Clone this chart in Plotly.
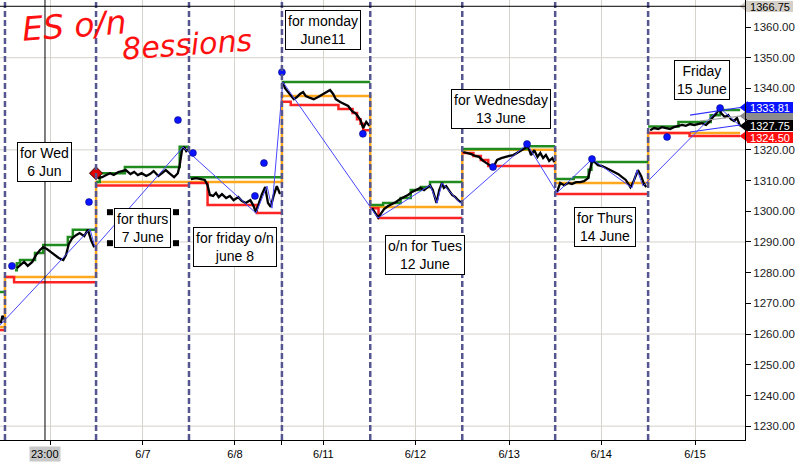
import plotly.graph_objects as go

# session boundaries on the x axis (one unit = one overnight session)
session_starts = [-0.054, 0.0, 0.99, 2.0, 3.01, 3.97, 4.97, 5.98, 6.99, 7.99]

# price samples: time as fraction of the session, and price
price_time = [
    [0.15, 0.5, 0.85],
    [0.13, 0.165, 0.21, 0.25, 0.30, 0.34, 0.385, 0.42, 0.46, 0.505, 0.55, 0.59, 0.64, 0.67, 0.70, 0.74, 0.78, 0.82, 0.87, 0.91, 0.945, 0.98],
    [0.02, 0.065, 0.11, 0.15, 0.19, 0.24, 0.28, 0.32, 0.37, 0.41, 0.45, 0.49, 0.54, 0.58, 0.62, 0.67, 0.71, 0.75, 0.80, 0.84, 0.88, 0.90, 0.925, 0.946, 0.97, 0.99],
    [0.02, 0.075, 0.13, 0.17, 0.20, 0.225, 0.26, 0.29, 0.32, 0.355, 0.40, 0.44, 0.48, 0.53, 0.57, 0.61, 0.66, 0.69, 0.72, 0.75, 0.785, 0.82, 0.85, 0.88, 0.91, 0.945, 0.98],
    [0.01, 0.035, 0.07, 0.10, 0.135, 0.17, 0.205, 0.24, 0.27, 0.32, 0.36, 0.41, 0.45, 0.50, 0.545, 0.58, 0.61, 0.66, 0.70, 0.75, 0.795, 0.84, 0.89, 0.92, 0.955, 0.99],
    [0.02, 0.055, 0.087, 0.12, 0.15, 0.195, 0.24, 0.28, 0.325, 0.37, 0.41, 0.455, 0.50, 0.545, 0.585, 0.65, 0.68, 0.72, 0.75, 0.78, 0.80, 0.825, 0.86, 0.89, 0.925, 0.955, 0.99],
    [0.01, 0.054, 0.097, 0.14, 0.18, 0.225, 0.27, 0.31, 0.345, 0.375, 0.42, 0.46, 0.505, 0.55, 0.59, 0.635, 0.68, 0.70, 0.74, 0.775, 0.81, 0.84, 0.87, 0.90, 0.935, 0.97, 0.99],
    [0.02, 0.054, 0.097, 0.14, 0.18, 0.225, 0.27, 0.31, 0.355, 0.387, 0.40, 0.46, 0.505, 0.55, 0.59, 0.635, 0.68, 0.72, 0.76, 0.81, 0.84, 0.87, 0.89, 0.925, 0.955, 0.98],
    [0.022, 0.065, 0.11, 0.15, 0.195, 0.24, 0.28, 0.325, 0.37, 0.41, 0.455, 0.50, 0.545, 0.585, 0.63, 0.675, 0.705, 0.74, 0.77, 0.80, 0.835, 0.87, 0.90, 0.935, 0.965, 1.0],
]
price_vals = [
    [1263.5, 1266.0, 1264.8],
    [1281.5, 1282.5, 1283.5, 1282.2, 1283.5, 1285.7, 1287.4, 1288.3, 1287.7, 1286.7, 1285.7, 1284.8, 1284.1, 1285.7, 1289.3, 1291.3, 1292.2, 1292.9, 1291.9, 1294.0, 1290.6, 1288.3],
    [1310.8, 1311.1, 1311.8, 1312.4, 1311.8, 1312.8, 1313.1, 1313.4, 1312.1, 1312.8, 1311.8, 1312.4, 1311.5, 1312.1, 1313.1, 1311.5, 1312.4, 1313.4, 1312.1, 1311.1, 1312.4, 1315.0, 1319.9, 1321.0, 1319.6, 1320.3],
    [1310.5, 1310.8, 1310.5, 1310.2, 1308.5, 1305.3, 1305.0, 1306.0, 1304.6, 1305.6, 1304.3, 1305.0, 1303.6, 1304.6, 1303.3, 1302.7, 1303.6, 1302.0, 1299.7, 1302.7, 1305.6, 1307.9, 1302.7, 1301.4, 1305.0, 1308.2, 1305.6],
    [1342.1, 1340.1, 1338.8, 1337.9, 1336.5, 1337.2, 1338.2, 1338.8, 1337.5, 1336.9, 1336.5, 1337.2, 1337.9, 1338.5, 1339.5, 1338.2, 1336.5, 1335.6, 1334.9, 1334.3, 1332.6, 1331.7, 1329.7, 1327.1, 1329.1, 1327.8],
    [1301.0, 1299.4, 1297.9, 1299.4, 1300.7, 1301.7, 1302.3, 1303.0, 1304.0, 1304.6, 1305.3, 1306.3, 1306.9, 1307.6, 1306.9, 1308.4, 1306.9, 1302.7, 1306.9, 1309.2, 1307.6, 1308.2, 1306.6, 1305.3, 1304.6, 1303.6, 1302.8],
    [1319.3, 1319.0, 1318.6, 1318.0, 1317.7, 1316.4, 1315.4, 1314.7, 1315.0, 1316.7, 1317.3, 1317.7, 1318.0, 1318.3, 1319.0, 1319.6, 1320.6, 1321.8, 1318.3, 1319.9, 1317.7, 1319.0, 1317.3, 1318.3, 1316.4, 1317.3, 1316.0],
    [1306.3, 1309.2, 1308.5, 1309.2, 1308.9, 1309.5, 1309.5, 1309.8, 1310.8, 1314.4, 1316.8, 1315.0, 1314.7, 1314.1, 1313.4, 1312.8, 1312.1, 1311.1, 1310.2, 1307.8, 1309.5, 1311.8, 1313.4, 1311.5, 1308.9, 1307.9],
    [1326.4, 1327.1, 1326.8, 1327.4, 1327.1, 1326.8, 1327.4, 1327.8, 1328.1, 1327.8, 1328.4, 1328.1, 1328.4, 1328.7, 1328.1, 1329.4, 1330.7, 1331.7, 1333.5, 1331.7, 1330.7, 1331.3, 1330.0, 1329.4, 1330.4, 1327.75],
]

# session level lines (step lines): change times and levels
green_time = [[0], [0.11, 0.13, 0.165, 0.33, 0.42, 0.69, 0.745], [0, 0.04, 0.31, 0.90], [0], [0],
              [0, 0.14, 0.33, 0.44, 0.55, 0.65], [0, 0.70], [0, 0.2, 0.36, 0.39], [0, 0.33, 0.68, 0.78]]
green_vals = [[1273.7], [1280.8, 1283.1, 1284.1, 1286.4, 1289.0, 1291.6, 1294.0], [1309.5, 1312.4, 1314.4, 1321.0],
              [1311.1], [1342.1], [1302.0, 1302.7, 1304.3, 1306.9, 1307.9, 1309.5], [1320.3, 1321.2],
              [1310.5, 1311.1, 1313.5, 1316.0], [1327.6, 1329.1, 1331.3, 1333.0]]
orange_time = [[0], [0], [0], [0], [0], [0], [0], [0], [0]]
orange_vals = [[1262.3], [1278.6], [1309.5], [1309.5], [1337.5], [1301.4], [1320.0], [1309.2], [1325.5]]
red_time = [[0], [0, 0.1], [0], [0, 0.20, 0.73], [0, 0.10, 0.64, 0.80, 0.85, 0.89, 0.92], [0, 0.09],
            [0, 0.12, 0.20, 0.28], [0], [0, 0.45]]
red_vals = [[1261.3], [1278.6, 1276.9], [1308.4], [1309.2, 1302.0, 1299.4],
            [1335.7, 1334.6, 1333.3, 1332.0, 1330.0, 1328.5, 1326.4], [1301.0, 1297.8],
            [1319.0, 1318.0, 1316.7, 1314.7], [1305.6], [1325.5, 1324.5]]

# zigzag pivots and swing dots
zz_x = [-0.054, 0.924, 0.978, 1.935, 2.728, 2.848, 2.902, 3.02, 4.054, 4.62, 4.696, 4.75, 4.946,
        5.674, 6.0, 6.38, 6.815, 6.87, 6.935, 7.772, 7.989]
zz_p = [1262.9, 1294.2, 1288.3, 1320.9, 1299.4, 1308.2, 1301.0, 1342.1, 1297.8, 1308.5, 1302.7, 1309.2, 1302.7,
        1321.9, 1306.0, 1317.0, 1307.6, 1313.4, 1308.2, 1333.6, 1327.8]
dot_x = [0.076, 0.913, 1.88, 2.043, 2.717, 2.815, 3.01, 3.89, 5.304, 5.674, 6.38, 7.196, 7.772]
dot_p = [1282.2, 1303.0, 1329.7, 1319.0, 1305.0, 1315.7, 1345.3, 1325.2, 1314.4, 1321.9, 1317.0, 1324.2, 1333.6]
diamond_x = [0.989]
diamond_p = [1312.4]

# regression channel on the last session
chan_x = [7.446, 7.989]
chan_upper = [1331.3, 1333.8]
chan_lower = [1325.8, 1328.1]
mid_x = [7.554, 7.989]
chan_mid = [1329.4, 1331.0]

day_ticks = [0.49, 1.5, 2.5, 3.01, 3.46, 4.46, 5.48, 6.48, 7.5]
day_labels = ["", "6/7", "6/8", "", "6/11", "6/12", "6/13", "6/14", "6/15"]
price_ticks = list(range(1230, 1361, 10))
grid_levels = [1230, 1260, 1290, 1320, 1350]
cursor_x = 0.435
cursor_price = 1366.75
last_price = 1327.75
hidden_flag = 1331.0

X_RANGE = [-0.054, 8.043]


def session_x(k, t):
    a, b = session_starts[k], session_starts[k + 1]
    return a + t * (b - a)


def step_series(times, vals, join=False):
    xs, ys = [], []
    for k, (ts, vs) in enumerate(zip(times, vals)):
        for t, v in zip(ts, vs):
            xs.append(session_x(k, t))
            ys.append(v)
        xs.append(session_starts[k + 1])
        ys.append(vs[-1])
        if not join:
            xs.append(None)
            ys.append(None)
    return xs, ys


px_, py_ = [], []
for k, (ts, vs) in enumerate(zip(price_time, price_vals)):
    px_ += [session_x(k, t) for t in ts] + [None]
    py_ += vs + [None]

fig = go.Figure()

ox, oy = step_series(orange_time, orange_vals, join=True)
fig.add_trace(go.Scatter(x=ox, y=oy, mode="lines", line=dict(color="#ffa81e", width=2.5, shape="hv"), hoverinfo="skip"))
rx, ry = step_series(red_time, red_vals)
fig.add_trace(go.Scatter(x=rx, y=ry, mode="lines", line=dict(color="#ff2424", width=2.5, shape="hv"), hoverinfo="skip"))
gx, gy = step_series(green_time, green_vals)
fig.add_trace(go.Scatter(x=gx, y=gy, mode="lines", line=dict(color="#208c20", width=2.5, shape="hv"), hoverinfo="skip"))

fig.add_trace(go.Scatter(x=px_, y=py_, mode="lines", line=dict(color="black", width=2.3)))

fig.add_trace(go.Scatter(x=zz_x, y=zz_p, mode="lines", line=dict(color="#4848ff", width=1)))
fig.add_trace(go.Scatter(x=chan_x, y=chan_upper, mode="lines", line=dict(color="#3030ff", width=1.2)))
fig.add_trace(go.Scatter(x=chan_x, y=chan_lower, mode="lines", line=dict(color="#3030ff", width=1.2)))
fig.add_trace(go.Scatter(x=mid_x, y=chan_mid, mode="lines", line=dict(color="#a0a0a0", width=1.2)))

fig.add_trace(go.Scatter(x=dot_x, y=dot_p, mode="markers",
                         marker=dict(color="#0a14ff", size=7, line=dict(color="#000060", width=0.5))))
fig.add_trace(go.Scatter(x=diamond_x, y=diamond_p, mode="markers",
                         marker=dict(symbol="diamond", color="#e00000", size=10, line=dict(color="#400000", width=1))))

shapes = []
for g in grid_levels:
    shapes.append(dict(type="line", xref="paper", x0=0, x1=1, yref="y", y0=g, y1=g,
                       line=dict(color="#d6d2cc", width=1), layer="below"))
for s in session_starts[1:-1]:
    shapes.append(dict(type="line", xref="x", x0=s, x1=s, yref="paper", y0=0, y1=1,
                       line=dict(color="#55558f", width=2.5, dash="6px,3px"), layer="above"))
shapes.append(dict(type="line", xref="x", x0=cursor_x, x1=cursor_x, yref="paper", y0=0, y1=1,
                   line=dict(color="black", width=1)))
shapes.append(dict(type="line", xref="paper", x0=0, x1=1, yref="y", y0=cursor_price, y1=cursor_price,
                   line=dict(color="black", width=1)))

notes = [
    (0.435, 1316.0, "for Wed<br>6 Jun"),
    (1.5, 1294.5, "for thurs<br>7 June"),
    (2.5, 1288.3, "for friday o/n<br>june 8"),
    (3.457, 1359.0, "for monday<br>June11"),
    (4.565, 1285.7, "o/n for Tues<br>12 June"),
    (5.39, 1333.3, "for Wednesday<br>13 June"),
    (6.52, 1294.9, "for Thurs<br>14 June"),
    (7.576, 1342.7, "Friday<br>15 June"),
]
annotations = []
for x, y, txt in notes:
    annotations.append(dict(x=x, y=y, xref="x", yref="y", text=txt, showarrow=False,
                            font=dict(family="Liberation Sans, Arial", size=14, color="black"),
                            bgcolor="white", bordercolor="black", borderwidth=1, borderpad=2))

# selection handles on the "for thurs" box
for hx, hy in [(1.141, 1299.7), (1.859, 1299.7), (1.141, 1289.6), (1.859, 1289.6)]:
    shapes.append(dict(type="rect", xref="x", yref="y", xsizemode="pixel", ysizemode="pixel",
                       xanchor=hx, yanchor=hy, x0=-3, x1=3, y0=-3, y1=3,
                       fillcolor="black", line=dict(width=0)))

annotations.append(dict(x=0.76, y=1360.4, xref="x", yref="y", text="<i>ES o/n</i>", showarrow=False,
                        textangle=-4, font=dict(family="DejaVu Sans", size=33, color="#ff1010")))
annotations.append(dict(x=1.98, y=1354.2, xref="x", yref="y", text="<i>8essions</i>", showarrow=False,
                        textangle=-4, font=dict(family="DejaVu Sans", size=30, color="#ff1010")))

# right-hand price flags: pointer triangles plus labelled boxes
flags = [
    (cursor_price, "1366.75", "#d4d0c8", "black", 0),
    (chan_upper[-1], "1333.81", "#0a14ff", "white", 0),
    (last_price, "1327.75", "black", "white", 1),
    (red_vals[-1][-1], "1324.50", "#ff1010", "white", -1),
]
shapes.append(dict(type="rect", xref="paper", yref="y", xsizemode="pixel", ysizemode="pixel",
                   xanchor=1.0, yanchor=hidden_flag, x0=2, x1=48, y0=-6, y1=6,
                   fillcolor="#8c8c8c", line=dict(width=0)))
fig.add_trace(go.Scatter(x=[X_RANGE[1]] * 5, y=[cursor_price, hidden_flag, chan_upper[-1], last_price, red_vals[-1][-1]],
                         mode="markers", cliponaxis=False,
                         marker=dict(symbol="triangle-left", size=11,
                                     color=["#d4d0c8", "#8c8c8c", "#0a14ff", "black", "#ff1010"])))
for y, txt, bg, fc, dy in flags:
    annotations.append(dict(x=1.0, y=y, xref="paper", yref="y", xanchor="left", xshift=2, yshift=dy,
                            text=txt, showarrow=False, bgcolor=bg, bordercolor=bg, borderwidth=0,
                            borderpad=0, width=46, height=11, align="center",
                            font=dict(family="Liberation Sans, Arial", size=11, color=fc)))

annotations.append(dict(x=cursor_x, y=0, xref="x", yref="paper", yanchor="middle", yshift=-14,
                        text="23:00", showarrow=False, bgcolor="#c8c8c8",
                        font=dict(family="Liberation Sans, Arial", size=11, color="black")))

fig.update_layout(
    width=804, height=469,
    margin=dict(l=0, r=59, t=0, b=29),
    paper_bgcolor="white", plot_bgcolor="white",
    showlegend=False,
    shapes=shapes,
    annotations=annotations,
    xaxis=dict(range=X_RANGE, tickvals=day_ticks, ticktext=day_labels,
               showgrid=True, gridcolor="#d6d2cc", gridwidth=1, zeroline=False,
               ticks="outside", ticklen=4, tickcolor="black", showline=True, linecolor="black",
               tickfont=dict(family="Liberation Sans, Arial", size=11, color="black")),
    yaxis=dict(range=[1225.5, 1368.8], side="right", tickvals=price_ticks,
               ticktext=["" if v == 1330 else "%.2f" % v for v in price_ticks], showgrid=False, zeroline=False,
               ticks="outside", ticklen=5, tickcolor="black", showline=True, linecolor="black",
               tickfont=dict(family="Liberation Sans, Arial", size=11.5, color="#1a1a1a")),
)

fig.write_html("out.html", config={"displayModeBar": False},
               post_script="document.body.style.margin='0';")
